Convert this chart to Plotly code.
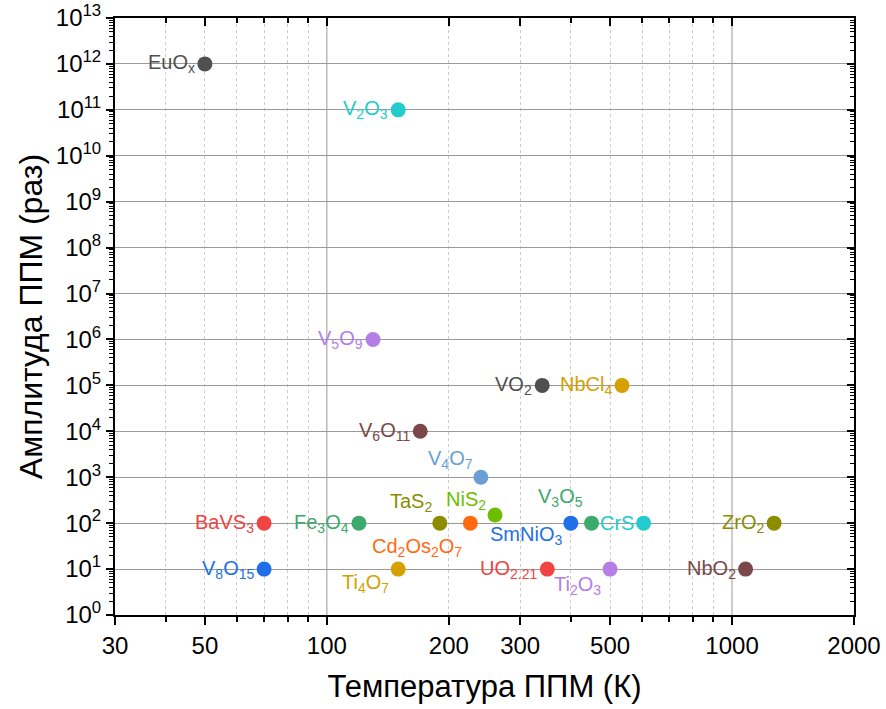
import math
import plotly.graph_objects as go

# ---- data ----
materials = ["EuO<sub>x</sub>", "V<sub>2</sub>O<sub>3</sub>", "V<sub>5</sub>O<sub>9</sub>",
             "VO<sub>2</sub>", "NbCl<sub>4</sub>", "V<sub>6</sub>O<sub>11</sub>",
             "V<sub>4</sub>O<sub>7</sub>", "BaVS<sub>3</sub>", "V<sub>8</sub>O<sub>15</sub>",
             "Fe<sub>3</sub>O<sub>4</sub>", "TaS<sub>2</sub>", "Cd<sub>2</sub>Os<sub>2</sub>O<sub>7</sub>",
             "NiS<sub>2</sub>", "Ti<sub>4</sub>O<sub>7</sub>", "SmNiO<sub>3</sub>",
             "V<sub>3</sub>O<sub>5</sub>", "CrS", "UO<sub>2.21</sub>", "Ti<sub>2</sub>O<sub>3</sub>",
             "ZrO<sub>2</sub>", "NbO<sub>2</sub>"]
temperature_K = [50, 150, 130, 340, 535, 170, 240, 70, 70, 120, 190, 226, 260, 150, 400,
                 450, 605, 350, 500, 1270, 1080]
amplitude = [1e12, 1e11, 1e6, 1e5, 1e5, 1e4, 1e3, 100, 10, 100, 100, 100, 150, 10, 100,
             100, 100, 10, 10, 100, 10]
colors = ["#505050", "#22CCCC", "#B47EE5", "#505050", "#D6A000", "#7A4848", "#6B9ED4",
          "#F04444", "#1F6FE8", "#3BAA6A", "#8C8C00", "#FF6A10", "#6DBE00", "#D6A000",
          "#1F6FE8", "#3BAA6A", "#22CCCC", "#F04444", "#B47EE5", "#8C8C00", "#7A4848"]

x_tick_vals = [30, 50, 100, 200, 300, 500, 1000, 2000]
x_tick_text = ["30", "50", "100", "200", "300", "500", "1000", "2000"]
y_exponents = list(range(0, 14))

# label offsets (pixels) for labels not placed directly left of their point
label_shift = {
    "V<sub>4</sub>O<sub>7</sub>": (-6, 18),
    "TaS<sub>2</sub>": (-6, 21),
    "NiS<sub>2</sub>": (-7, 15),
    "Cd<sub>2</sub>Os<sub>2</sub>O<sub>7</sub>": (-6, -24),
    "Ti<sub>4</sub>O<sub>7</sub>": (-7, -14),
    "SmNiO<sub>3</sub>": (-7, -12),
    "V<sub>3</sub>O<sub>5</sub>": (-7, 26),
    "Ti<sub>2</sub>O<sub>3</sub>": (-7, -16),
}

FONT = "Liberation Sans, Arial, sans-serif"

fig = go.Figure()
# invisible copy on the mirror axes so the top/right tick axes are drawn
fig.add_trace(go.Scatter(
    x=temperature_K, y=amplitude, xaxis="x2", yaxis="y2", mode="markers",
    marker=dict(size=1, opacity=0), hoverinfo="skip", showlegend=False,
))
fig.add_trace(go.Scatter(
    x=temperature_K, y=amplitude, mode="markers",
    marker=dict(size=15, color=colors, line=dict(width=0)),
    hovertext=materials, showlegend=False,
))

annotations = []
for name, xv, yv, c in zip(materials, temperature_K, amplitude, colors):
    dx, dy = label_shift.get(name, (-8, 0))
    annotations.append(dict(
        # annotations on log axes are positioned in log10 units
        x=math.log10(xv), y=math.log10(yv), xref="x", yref="y", text=name, showarrow=False,
        xanchor="right", yanchor="middle", xshift=dx, yshift=dy,
        font=dict(family=FONT, size=20, color=c),
    ))

# solid vertical major grid at decades
shapes = []
for gx in [100, 1000]:
    shapes.append(dict(type="line", xref="x", yref="paper", x0=gx, x1=gx, y0=0, y1=1,
                       line=dict(color="#9a9a9a", width=1), layer="below"))

x_minor_grid = [40, 50, 60, 70, 80, 90, 200, 300, 400, 500, 600, 700, 800, 900]
y_minor = [k * 10 ** i for i in range(13) for k in range(2, 10)]
y_tick_vals = [10 ** e for e in y_exponents]

fig.update_layout(
    width=886, height=709,
    margin=dict(l=115, r=32, t=18, b=94),
    paper_bgcolor="white", plot_bgcolor="white",
    font=dict(family=FONT, color="black"),
    annotations=annotations, shapes=shapes,
    xaxis=dict(
        type="log", range=[1.4771, 3.30103], automargin=False,
        tickmode="array", tickvals=x_tick_vals, ticktext=x_tick_text,
        tickfont=dict(size=24, family=FONT),
        ticks="outside", ticklen=8, tickwidth=2, tickcolor="black",
        showline=True, linecolor="black", linewidth=2, mirror=True,
        showgrid=False, zeroline=False,
        minor=dict(tickmode="array", tickvals=x_minor_grid, ticks="outside", ticklen=5,
                   tickwidth=1.5, tickcolor="black", showgrid=True, gridcolor="#cccccc",
                   griddash="dot", gridwidth=1),
        title=dict(text="Температура ППМ (К)", font=dict(size=31, family=FONT), standoff=18),
    ),
    yaxis=dict(
        type="log", range=[0, 13], automargin=False,
        tickmode="array", tickvals=y_tick_vals,
        ticktext=["10<sup>%d</sup>" % e for e in y_exponents],
        tickfont=dict(size=24, family=FONT),
        ticks="outside", ticklen=7, tickwidth=2, tickcolor="black",
        showline=True, linecolor="black", linewidth=2, mirror=True,
        showgrid=True, gridcolor="#9a9a9a", gridwidth=1, zeroline=False,
        minor=dict(tickmode="array", tickvals=y_minor, ticks="outside", ticklen=4,
                   tickwidth=1, tickcolor="black", showgrid=False),
        title=dict(text="Амплитуда ППМ (раз)", font=dict(size=32, family=FONT), standoff=4),
    ),
    xaxis2=dict(
        type="log", overlaying="x", matches="x", side="top", anchor="y2", automargin=False,
        tickmode="array", tickvals=x_tick_vals, showticklabels=False,
        ticks="inside", ticklen=8, tickwidth=2, tickcolor="black",
        showline=False, showgrid=False, zeroline=False,
        minor=dict(tickmode="array", tickvals=x_minor_grid, ticks="inside", ticklen=5,
                   tickwidth=1.5, tickcolor="black", showgrid=False),
    ),
    yaxis2=dict(
        type="log", overlaying="y", matches="y", side="right", anchor="x2", automargin=False,
        tickmode="array", tickvals=y_tick_vals, showticklabels=False,
        ticks="inside", ticklen=7, tickwidth=2, tickcolor="black",
        showline=False, showgrid=False, zeroline=False,
        minor=dict(tickmode="array", tickvals=y_minor, ticks="inside", ticklen=4,
                   tickwidth=1, tickcolor="black", showgrid=False),
    ),
)

fig.write_html("out.html")
